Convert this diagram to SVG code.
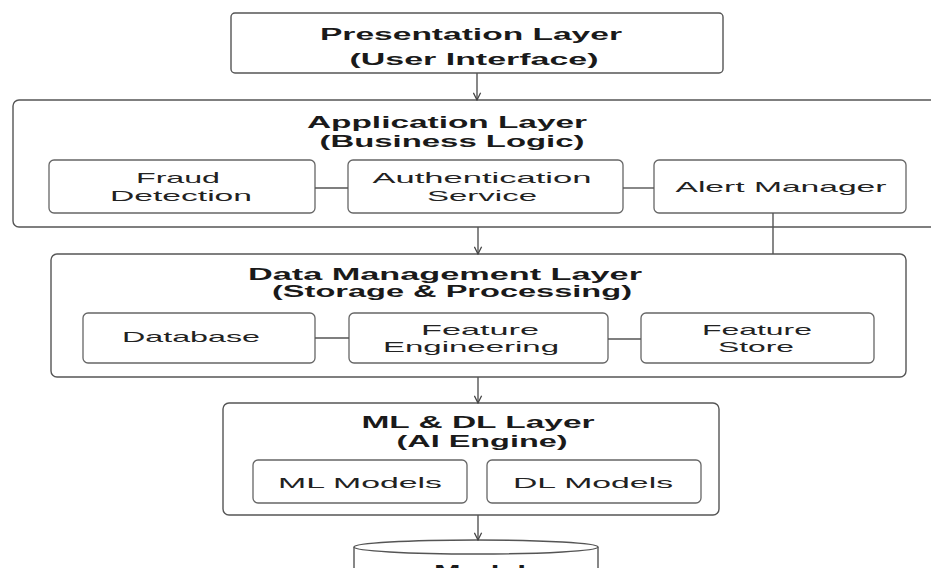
<svg xmlns="http://www.w3.org/2000/svg" width="931" height="568" viewBox="0 0 931 568">
  <style>
    .box { fill: #ffffff; stroke: #555555; stroke-width: 1.4; }
    .sub { fill: #ffffff; stroke: #666666; stroke-width: 1.3; }
    .wire { fill: none; stroke: #555555; stroke-width: 1.4; }
    .head { font-family: "Liberation Sans", Arial, sans-serif; font-weight: bold; font-size: 16px; fill: #1a1a1a; text-anchor: middle; }
    .lbl { font-family: "Liberation Sans", Arial, sans-serif; font-size: 15px; fill: #222222; text-anchor: middle; }
  </style>
  <defs>
    <marker id="arrow" viewBox="0 0 10 10" refX="9" refY="5" markerWidth="9" markerHeight="9" orient="auto" markerUnits="userSpaceOnUse">
      <path d="M1,1 L9,5 L1,9" fill="none" stroke="#444444" stroke-width="1.4"/>
    </marker>
  </defs>
  <rect width="931" height="568" fill="#ffffff"/>

  <g id="presentation-layer">
    <rect class="box" x="231" y="13" width="492" height="60" rx="4"/>
    <text class="head" x="471" y="40" textLength="302" lengthAdjust="spacingAndGlyphs">Presentation Layer</text>
    <text class="head" x="474" y="65" textLength="249" lengthAdjust="spacingAndGlyphs">(User Interface)</text>
  </g>

  <g id="application-layer">
    <rect class="box" x="13" y="100" width="930" height="127" rx="6"/>
    <text class="head" x="447" y="128" textLength="280" lengthAdjust="spacingAndGlyphs">Application Layer</text>
    <text class="head" x="452" y="147" textLength="265" lengthAdjust="spacingAndGlyphs">(Business Logic)</text>
  </g>

  <g id="fraud-detection">
    <rect class="sub" x="49" y="160" width="266" height="53" rx="5"/>
    <text class="lbl" x="178" y="183" textLength="84" lengthAdjust="spacingAndGlyphs">Fraud</text>
    <text class="lbl" x="181" y="201" textLength="142" lengthAdjust="spacingAndGlyphs">Detection</text>
  </g>

  <g id="authentication-service">
    <rect class="sub" x="348" y="160" width="275" height="53" rx="5"/>
    <text class="lbl" x="482" y="183" textLength="219" lengthAdjust="spacingAndGlyphs">Authentication</text>
    <text class="lbl" x="482" y="201" textLength="110" lengthAdjust="spacingAndGlyphs">Service</text>
  </g>

  <g id="alert-manager">
    <rect class="sub" x="654" y="160" width="252" height="53" rx="5"/>
    <text class="lbl" x="781" y="192" textLength="211" lengthAdjust="spacingAndGlyphs">Alert Manager</text>
  </g>

  <g id="data-management-layer">
    <rect class="box" x="51" y="254" width="855" height="123" rx="6"/>
    <text class="head" x="445" y="280" textLength="394" lengthAdjust="spacingAndGlyphs">Data Management Layer</text>
    <text class="head" x="452" y="297" textLength="360" lengthAdjust="spacingAndGlyphs">(Storage &amp; Processing)</text>
  </g>

  <g id="database">
    <rect class="sub" x="83" y="313" width="232" height="50" rx="5"/>
    <text class="lbl" x="191" y="342" textLength="138" lengthAdjust="spacingAndGlyphs">Database</text>
  </g>

  <g id="feature-engineering">
    <rect class="sub" x="349" y="313" width="259" height="50" rx="5"/>
    <text class="lbl" x="480" y="335" textLength="118" lengthAdjust="spacingAndGlyphs">Feature</text>
    <text class="lbl" x="471" y="352" textLength="176" lengthAdjust="spacingAndGlyphs">Engineering</text>
  </g>

  <g id="feature-store">
    <rect class="sub" x="641" y="313" width="233" height="50" rx="5"/>
    <text class="lbl" x="757" y="335" textLength="110" lengthAdjust="spacingAndGlyphs">Feature</text>
    <text class="lbl" x="756" y="352" textLength="76" lengthAdjust="spacingAndGlyphs">Store</text>
  </g>

  <g id="ml-dl-layer">
    <rect class="box" x="223" y="403" width="496" height="112" rx="6"/>
    <text class="head" x="478" y="428" textLength="233" lengthAdjust="spacingAndGlyphs">ML &amp; DL Layer</text>
    <text class="head" x="482" y="447" textLength="171" lengthAdjust="spacingAndGlyphs">(AI Engine)</text>
  </g>

  <g id="ml-models">
    <rect class="sub" x="253" y="460" width="214" height="43" rx="5"/>
    <text class="lbl" x="360" y="488" textLength="164" lengthAdjust="spacingAndGlyphs">ML Models</text>
  </g>

  <g id="dl-models">
    <rect class="sub" x="487" y="460" width="214" height="43" rx="5"/>
    <text class="lbl" x="593" y="488" textLength="160" lengthAdjust="spacingAndGlyphs">DL Models</text>
  </g>

  <!-- cylinder store, only its upper rim fits in the frame -->
  <g id="model-store">
    <path class="box" d="M354,547 L354,580 L598,580 L598,547"/>
    <ellipse class="box" cx="476" cy="547" rx="122" ry="7"/>
    <text class="head" x="480" y="577" textLength="92" lengthAdjust="spacingAndGlyphs">Model</text>
  </g>

  <g id="connectors">
    <line class="wire" x1="477" y1="73" x2="477" y2="100" marker-end="url(#arrow)"/>
    <line class="wire" x1="315" y1="188" x2="348" y2="188"/>
    <line class="wire" x1="623" y1="188" x2="654" y2="188"/>
    <line class="wire" x1="478" y1="227" x2="478" y2="254" marker-end="url(#arrow)"/>
    <line class="wire" x1="773" y1="213" x2="773" y2="254"/>
    <line class="wire" x1="315" y1="338" x2="349" y2="338"/>
    <line class="wire" x1="608" y1="339" x2="641" y2="339"/>
    <line class="wire" x1="478" y1="377" x2="478" y2="403" marker-end="url(#arrow)"/>
    <line class="wire" x1="478" y1="515" x2="478" y2="540" marker-end="url(#arrow)"/>
  </g>
</svg>
